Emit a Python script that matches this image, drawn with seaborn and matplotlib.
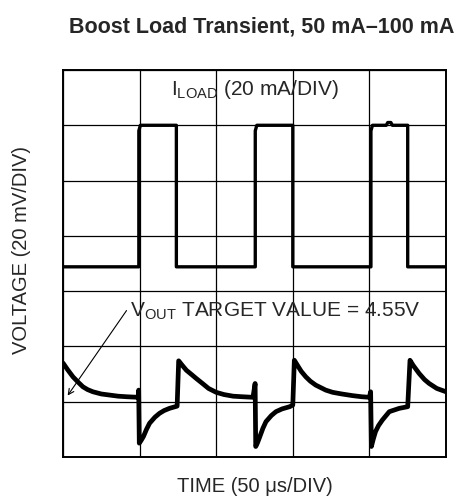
import pandas as pd
import matplotlib
matplotlib.use("Agg")
import matplotlib.pyplot as plt
import seaborn as sns

# time in microseconds (50 us/DIV), levels in screen divisions
load_time = [0, 49.5, 49.5, 50.5, 74, 74, 125.5, 125.5, 126.5, 150, 150,
             201, 201, 202, 211, 212, 214, 215, 225, 225, 250]
load_level = [3.44, 3.44, 5.9, 6.0, 6.0, 3.44, 3.44, 5.9, 6.0, 6.0, 3.44,
              3.44, 5.9, 6.0, 6.0, 6.05, 6.05, 6.0, 6.0, 3.44, 3.44]

vout_time = [0, 3, 6.5, 10, 13, 16, 19.5, 25, 30.5, 36, 41.5, 49, 49.4, 49.8,
             51, 52.5, 54.5, 56.5, 60, 63, 66, 69.5, 74.5, 75.5, 77.5, 80.5,
             84, 87, 91.5, 95, 100, 105, 111, 117, 124, 125.4, 125.8, 127,
             128.5, 130.5, 132.5, 136, 139, 143, 148, 150, 151, 153, 155.5,
             158.5, 161.5, 165, 171.5, 176, 182, 189, 195, 200, 200.8, 201.3,
             202.5, 204, 206, 208.5, 213, 219.5, 225, 226.5, 228.5, 232.5,
             236, 239, 244, 250]
vout_level = [1.70, 1.58, 1.45, 1.35, 1.27, 1.22, 1.18, 1.14, 1.12, 1.10, 1.09,
              1.08, 1.21, 0.25, 0.30, 0.37, 0.50, 0.61, 0.72, 0.79, 0.84, 0.88,
              0.92, 1.74, 1.67, 1.57, 1.49, 1.42, 1.32, 1.24, 1.17, 1.13, 1.10,
              1.09, 1.08, 1.33, 0.19, 0.26, 0.37, 0.52, 0.64, 0.75, 0.82, 0.87,
              0.91, 0.94, 1.75, 1.66, 1.55, 1.45, 1.37, 1.30, 1.21, 1.17, 1.14,
              1.11, 1.09, 1.08, 1.18, 0.19, 0.32, 0.46, 0.57, 0.67, 0.82, 0.88,
              0.91, 1.75, 1.66, 1.51, 1.40, 1.33, 1.24, 1.18]

load_df = pd.DataFrame({"t": load_time, "v": load_level})
vout_df = pd.DataFrame({"t": vout_time, "v": vout_level})

sns.set_style("white")
plt.rcParams["font.family"] = ["Liberation Sans", "DejaVu Sans"]
plt.rcParams["mathtext.fontset"] = "custom"
plt.rcParams["mathtext.rm"] = "Liberation Sans"
plt.rcParams["mathtext.it"] = "Liberation Sans"

fig = plt.figure(figsize=(4.55, 4.99), dpi=100)
ax = fig.add_axes([63 / 455, 42 / 499, 383 / 455, 387 / 499])

sns.lineplot(data=load_df, x="t", y="v", ax=ax, color="black", lw=2.4,
             sort=False, estimator=None)
sns.lineplot(data=vout_df, x="t", y="v", ax=ax, color="black", lw=3.4,
             sort=False, estimator=None, solid_joinstyle="round")

ax.set_xlim(0, 250)
ax.set_ylim(0, 7)
ax.set_xticks(range(0, 251, 50))
ax.set_yticks(range(0, 8))
ax.tick_params(length=0, labelbottom=False, labelleft=False)
ax.grid(True, color="black", lw=0.9)
for s in ax.spines.values():
    s.set_color("black")
    s.set_linewidth(1.4)
ax.set_xlabel("")
ax.set_ylabel("")

ax.text(125.5, 6.55, r"I$_{\mathrm{LOAD}}$ (20 mA/DIV)", ha="center",
        va="baseline", fontsize=15)
ax.text(43.5, 2.54, r"V$_{\mathrm{OUT}}$ TARGET VALUE = 4.55V", ha="left",
        va="baseline", fontsize=15)
ax.annotate("", xy=(2, 1.07), xytext=(42.5, 2.69),
            arrowprops=dict(arrowstyle="->", color="black", lw=0.8))

fig.text(261.5 / 455, 1 - 27 / 499, "Boost Load Transient, 50 mA\u2013100 mA",
         ha="center", va="center", fontsize=15.5, fontweight="bold")
fig.text(254.5 / 455, 1 - 487 / 499, "TIME (50 \u03bcs/DIV)",
         ha="center", va="center", fontsize=14.5)
fig.text(22 / 455, 1 - 250 / 499, "VOLTAGE (20 mV/DIV)", rotation=90,
         ha="center", va="center", fontsize=14.5)

fig.savefig("out.png", dpi=100)
plt.close(fig)
